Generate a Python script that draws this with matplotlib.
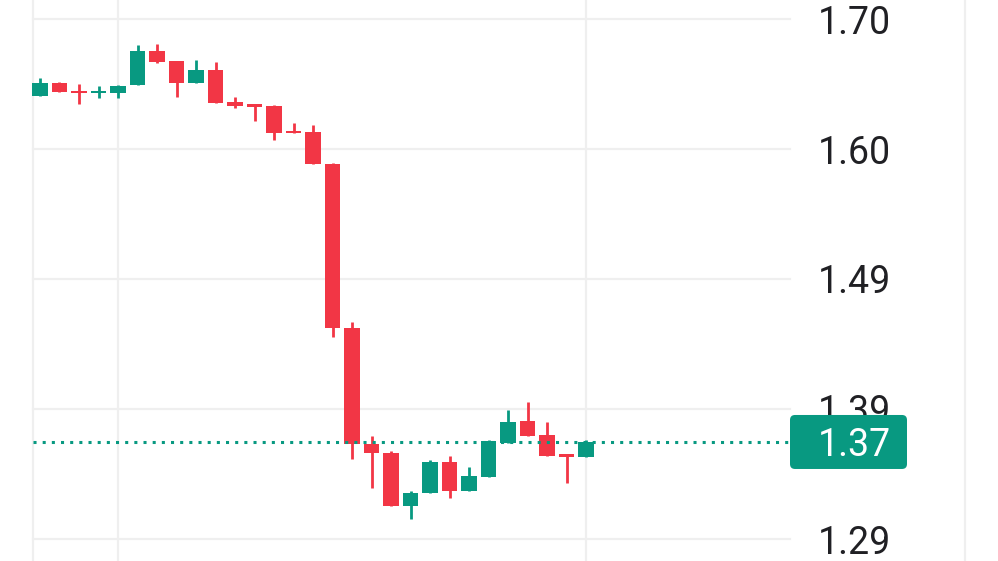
import matplotlib
matplotlib.use("Agg")
import matplotlib.pyplot as plt
from matplotlib.patches import FancyBboxPatch
from matplotlib.transforms import IdentityTransform

# ---- data ----
opens  = [1.6393, 1.6495, 1.6432, 1.6417, 1.6417, 1.6480, 1.6748, 1.6669, 1.6495, 1.6598,
          1.6346, 1.6330, 1.6314, 1.6117, 1.6109, 1.5857, 1.4564, 1.3649, 1.3578, 1.3160,
          1.3263, 1.3507, 1.3278, 1.3389, 1.3657, 1.3830, 1.3720, 1.3570, 1.3547]
highs  = [1.6535, 1.6503, 1.6488, 1.6472, 1.6480, 1.6795, 1.6803, 1.6669, 1.6677, 1.6661,
          1.6385, 1.6330, 1.6322, 1.6180, 1.6164, 1.5865, 1.4611, 1.3712, 1.3594, 1.3278,
          1.3523, 1.3554, 1.3468, 1.3681, 1.3917, 1.3980, 1.3823, 1.3570, 1.3681]
lows   = [1.6393, 1.6424, 1.6330, 1.6377, 1.6377, 1.6480, 1.6653, 1.6385, 1.6495, 1.6338,
          1.6298, 1.6196, 1.6046, 1.6101, 1.5857, 1.4493, 1.3531, 1.3302, 1.3160, 1.3058,
          1.3263, 1.3223, 1.3278, 1.3389, 1.3657, 1.3712, 1.3554, 1.3342, 1.3547]
closes = [1.6495, 1.6424, 1.6417, 1.6432, 1.6472, 1.6748, 1.6661, 1.6495, 1.6598, 1.6338,
          1.6314, 1.6306, 1.6101, 1.6101, 1.5857, 1.4564, 1.3649, 1.3578, 1.3160, 1.3263,
          1.3507, 1.3278, 1.3397, 1.3673, 1.3823, 1.3712, 1.3554, 1.3547, 1.3665]

tick_values = [1.70, 1.5975, 1.495, 1.3925, 1.29]
tick_labels = ["1.70", "1.60", "1.49", "1.39", "1.29"]
time_grid_idx = [4, 28]
current_price = closes[-1]
current_label = "1.37"

UP = "#089981"
DOWN = "#F23645"
GRID = "#EFEFEF"
TEXT = "#202024"

W, H = 998, 561
fig = plt.figure(figsize=(W / 100, H / 100), dpi=100)
ax = fig.add_axes([0, 0, 1, 1])
ax.set_axis_off()

# x: candle i at pixel 40 + 19.5*i ; y: linear price scale
step = 19.5
x0px = 40
ax.set_xlim(-x0px / step, (W - x0px) / step)
ppx = 0.1025 / 130.0
ax.set_ylim(1.70 - (H - 19) * ppx, 1.70 + 19 * ppx)

plot_left = 33 / W
plot_right = 790 / W

# grid
for v in tick_values:
    ax.axhline(v, xmin=plot_left, xmax=plot_right, color=GRID, lw=1.6, zorder=0)
for i in time_grid_idx:
    ax.axvline(i, color=GRID, lw=1.6, zorder=0)
ax.plot([plot_left, plot_left], [0, 1], transform=ax.transAxes, color=GRID, lw=1.6, zorder=0)
ax.plot([965 / W, 965 / W], [0, 1], transform=ax.transAxes, color=GRID, lw=1.6, zorder=0)

# candles
xs = list(range(len(opens)))
cols = [UP if c >= o else DOWN for o, c in zip(opens, closes)]
ax.vlines(xs, lows, highs, colors=cols, lw=2.0, zorder=2)
bottoms = [min(o, c) for o, c in zip(opens, closes)]
heights = [max(abs(c - o), 0.0018) for o, c in zip(opens, closes)]
ax.bar(xs, heights, bottom=bottoms, width=0.77, color=cols, linewidth=0, zorder=3)

# current price dotted line
ax.axhline(current_price, xmin=plot_left, xmax=plot_right, color=UP, lw=2.2,
           linestyle=(0, (1, 2)), zorder=4)

# y labels
for v, lab in zip(tick_values, tick_labels):
    ax.text(818 / W, v, lab, transform=ax.get_yaxis_transform(), ha="left", va="center_baseline",
            fontsize=27, family="Roboto", color=TEXT, zorder=5)

# current price box
fig.canvas.draw()
yc = ax.transData.transform((0, current_price))[1]
box = FancyBboxPatch((790, yc - 27), 117, 54, boxstyle="round,pad=0,rounding_size=5",
                     transform=IdentityTransform(), facecolor=UP, edgecolor="none", zorder=6)
fig.patches.append(box)
box.set_figure(fig)
fig.text(818 / W, yc / H, current_label, ha="left", va="center_baseline", fontsize=27,
         family="Roboto", color="white", zorder=7)

fig.savefig("out.png", dpi=100)
